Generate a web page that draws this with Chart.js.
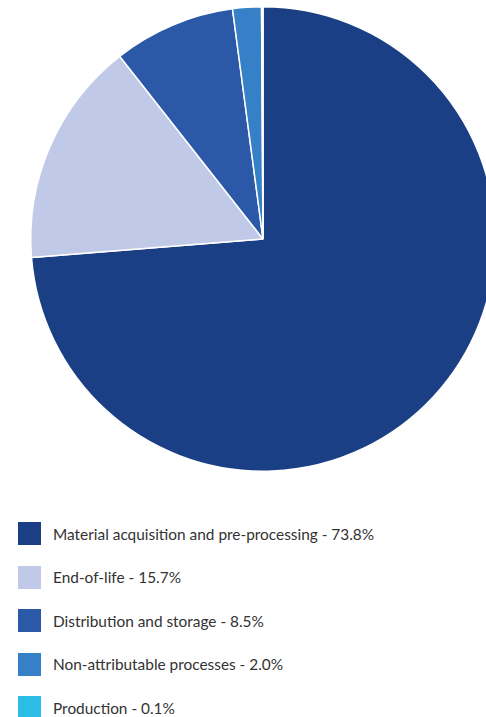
<!DOCTYPE html>
<html>
<head>
<meta charset="utf-8">
<script src="https://cdn.jsdelivr.net/npm/chart.js@4"></script>
<style>
  html, body { margin: 0; padding: 0; overflow: hidden; background: #fff; }
  body { width: 486px; height: 717px; position: relative; }
  #wrap { position: absolute; left: 0; top: 0; width: 526px; height: 478px; }
  #legenda { position: absolute; left: 18px; top: 522px; font-family: Lato, sans-serif; font-size: 15.4px; color: #333; }
  .item { display: flex; align-items: center; height: 23px; margin-bottom: 20.5px; }
  .caixa { width: 23px; height: 23px; margin-right: 12px; box-sizing: border-box; }
</style>
</head>
<body>
<div id="wrap"><canvas id="grafico"></canvas></div>
<div id="legenda"></div>
<script>
  const categorias = ['Material acquisition and pre-processing', 'End-of-life', 'Distribution and storage', 'Non-attributable processes', 'Production'];
  const valores = [73.8, 15.7, 8.5, 2.0, 0.1];
  const cores = ['#1b3f85', '#c0cae8', '#2c59a7', '#3580c6', '#2bbde6'];

  const legenda = document.getElementById('legenda');
  categorias.forEach((nome, i) => {
    const item = document.createElement('div');
    item.className = 'item';
    item.innerHTML = `<span class="caixa" style="background:${cores[i]}"></span><span>${nome} - ${valores[i].toFixed(1)}%</span>`;
    legenda.appendChild(item);
  });

  const ctx = document.getElementById('grafico').getContext('2d');
  new Chart(ctx, {
    type: 'pie',
    data: {
      labels: categorias,
      datasets: [{
        data: valores,
        backgroundColor: cores,
        borderColor: '#fff',
        borderWidth: 1.5
      }]
    },
    options: {
      responsive: true,
      maintainAspectRatio: false,
      animation: false,
      layout: { padding: { top: 6, bottom: 6 } },
      plugins: {
        legend: { display: false },
        tooltip: { enabled: false }
      }
    }
  });
</script>
</body>
</html>
